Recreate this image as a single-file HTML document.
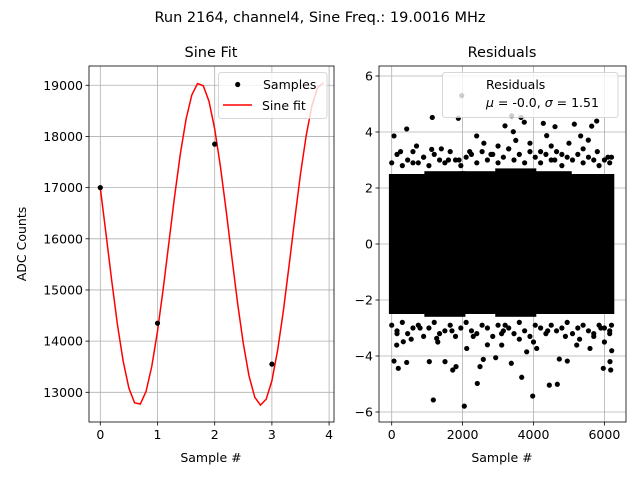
<!DOCTYPE html>
<html><head><meta charset="utf-8"><style>
body{margin:0;background:#fff;}
svg{display:block;font-family:"DejaVu Sans","Liberation Sans",sans-serif;}
</style></head><body>
<svg id="fig" width="640" height="480" viewBox="0 0 640 480">
<text x="320" y="22" text-anchor="middle" font-size="14.5">Run 2164, channel4, Sine Freq.: 19.0016 MHz</text>
<text x="211" y="57" text-anchor="middle" font-size="14.5">Sine Fit</text>
<text x="502" y="57" text-anchor="middle" font-size="14.5">Residuals</text>
<g id="left"></g>
<g id="right"></g>
</svg>
<script>
const fitX=[0,0.1,0.2,0.3,0.4,0.5,0.6,0.7,0.8,0.9,1.0,1.1,1.2,1.3,1.4,1.5,1.6,1.7,1.8,1.9,2.0,2.1,2.2,2.3,2.4,2.5,2.6,2.7,2.8,2.9,3.0,3.1,3.2,3.3,3.4,3.5,3.6,3.7,3.8,3.9];
const fitY=[16993,16095,15179,14319,13607,13081,12794,12772,13018,13506,14193,15024,15931,16839,17664,18341,18811,19034,18991,18688,18146,17413,16553,15638,14744,13953,13320,12904,12750,12864,13226,13821,14587,15475,16388,17267,18020,18603,18956,19046];
const sampleX=[0,1,2,3];
const sampleY=[17000,14350,17850,13550];
const leftXTicks=[0,1,2,3,4];
const leftYTicks=[13000,14000,15000,16000,17000,18000,19000];
const rightXTicks=[0,2000,4000,6000];
const rightYTicks=[-6,-4,-2,0,2,4,6];
const coreBinStart=[0,1000,2000,3000,4000,5000];
const coreBinEnd=[1000,2000,3000,4000,5000,6200];
const coreLow=[-2.5,-2.6,-2.5,-2.6,-2.5,-2.5];
const coreHigh=[2.5,2.6,2.6,2.7,2.6,2.5];
const fringeX=[0,150,300,450,600,750,900,1050,1200,1350,1500,1650,1800,1950,2100,2250,2400,2550,2700,2850,3000,3150,3300,3450,3600,3750,3900,4050,4200,4350,4500,4650,4800,4950,5100,5250,5400,5550,5700,5850,6000,6150,6200];
const fringeHi=[2.9,3.2,2.8,3.0,3.3,2.9,3.1,2.8,3.2,3.0,2.9,3.3,3.0,2.8,3.1,3.2,2.9,3.3,3.0,3.2,2.9,3.1,3.4,3.0,3.2,2.9,3.3,3.1,2.9,3.2,3.0,3.3,2.8,3.1,3.0,3.2,2.9,3.1,3.0,2.8,3.0,2.9,3.1];
const fringeLo=[-2.9,-3.1,-2.8,-3.2,-3.0,-2.9,-3.3,-3.0,-2.8,-3.2,-3.1,-2.9,-3.3,-3.0,-2.8,-3.1,-3.2,-2.9,-3.0,-3.3,-2.9,-3.1,-3.0,-3.2,-2.8,-3.1,-3.3,-2.9,-3.0,-3.2,-2.9,-3.1,-3.0,-2.8,-3.2,-3.0,-2.9,-3.1,-3.3,-2.9,-3.0,-3.2,-2.9];
const outX=[1975,1145,1880,3385,3647,3740,65,423,2397,3196,3430,4277,4607,5152,5331,5641,5783,5546,4372,1128,1174,2048,3977,2415,4446,4672,3667,65,186,423,1061,1504,1721,1814,2491,2584,2934,3374,3808,4728,4954,5969,6178,6158,6206,1269,2116,3103,4090,5594,5219,141,327,
 250,700,900,1400,1600,2200,2600,2800,3000,3300,3500,3900,4200,4500,4800,5000,5400,5800,6100,150,550,800,1300,1700,2300,2700,3100,3600,4000,4400,4900,5300,5700,6000,6150,600,1900,3200,4600,5900];
const outY=[5.30,4.52,4.49,4.58,4.52,4.35,3.86,4.11,3.86,4.22,4.01,4.31,4.19,4.28,3.86,4.21,4.39,3.71,3.87,3.38,-5.57,-5.79,-5.43,-4.98,-5.04,-5.01,-4.76,-4.18,-4.44,-4.23,-4.20,-4.20,-4.5,-4.38,-4.38,-4.12,-4.06,-4.26,-3.85,-4.11,-4.18,-4.44,-4.5,-4.2,-3.81,-3.37,-3.73,-3.61,-3.73,-3.73,-3.61,-3.61,-3.49,
 3.3,3.5,3.1,3.4,3.0,3.3,3.6,3.2,3.5,3.4,3.7,3.6,3.3,3.5,3.2,3.6,3.4,3.3,3.1,-3.2,-3.4,-3.0,-3.5,-3.1,-3.3,-3.6,-3.2,-3.4,-3.5,-3.1,-3.3,-3.4,-3.2,-3.5,-3.1,2.9,3.0,-2.9,3.0,-3.0];

const NS='http://www.w3.org/2000/svg';
function mk(parent,tag,attrs){const e=document.createElementNS(NS,tag);for(const k in attrs)e.setAttribute(k,attrs[k]);parent.appendChild(e);return e;}

const L={x0:89,x1:334,y0:66,y1:422};
const lx=v=>100.3+(v-0)*57.2;
const ly=v=>392.3-(v-13000)*0.05117;
const gl=document.getElementById('left');
leftXTicks.forEach(t=>{
 const g=mk(gl,'line',{x1:lx(t),x2:lx(t),y1:L.y0,y2:L.y1,stroke:'#b0b0b0','stroke-width':0.8});
 
 
 mk(gl,'line',{x1:lx(t),x2:lx(t),y1:L.y1,y2:L.y1+3.5,stroke:'#000','stroke-width':0.8});
 const tx=mk(gl,'text',{x:lx(t),y:L.y1+17,'text-anchor':'middle','font-size':12.5});tx.textContent=t;
 
 
});
leftYTicks.forEach(t=>{
 const g=mk(gl,'line',{x1:L.x0,x2:L.x1,y1:ly(t),y2:ly(t),stroke:'#b0b0b0','stroke-width':0.8});
 
 
 mk(gl,'line',{x1:L.x0-3.5,x2:L.x0,y1:ly(t),y2:ly(t),stroke:'#000','stroke-width':0.8});
 const tx=mk(gl,'text',{x:L.x0-6,y:ly(t)+4.5,'text-anchor':'end','font-size':12.5});tx.textContent=t;
 
 
});
const fit=mk(gl,'polyline',{points:fitX.map((x,i)=>lx(x)+','+ly(fitY[i])).join(' '),fill:'none',stroke:'#ff0000','stroke-width':1.5});


sampleX.forEach((x,i)=>{
 const c=mk(gl,'circle',{cx:lx(x),cy:ly(sampleY[i]),r:2.6,fill:'#000'});
 
 
});
mk(gl,'rect',{x:L.x0,y:L.y0,width:L.x1-L.x0,height:L.y1-L.y0,fill:'none',stroke:'#000','stroke-width':0.8});
const xl=mk(gl,'text',{x:211,y:462,'text-anchor':'middle','font-size':12.5});xl.textContent='Sample #';


const yl=mk(gl,'text',{x:26,y:244,'text-anchor':'middle','font-size':12.5,transform:'rotate(-90 26 244)'});yl.textContent='ADC Counts';


const lg=mk(gl,'g',{});


mk(lg,'rect',{x:218.5,y:72.5,width:108.5,height:46,rx:3,fill:'#fff','fill-opacity':0.8,stroke:'#ccc','stroke-width':0.8});
mk(lg,'circle',{cx:237.7,cy:84.5,r:2.6,fill:'#000'});
let t1=mk(lg,'text',{x:263,y:89,'font-size':12.5});t1.textContent='Samples';
mk(lg,'line',{x1:223,x2:252,y1:105,y2:105,stroke:'#ff0000','stroke-width':1.5});
let t2=mk(lg,'text',{x:262,y:110,'font-size':12.5});t2.textContent='Sine fit';

const R={x0:379,x1:626,y0:66,y1:422};
const rx=v=>391.7+v*0.03545;
const ry=v=>244-v*28;
const gr=document.getElementById('right');
rightXTicks.forEach(t=>{
 const g=mk(gr,'line',{x1:rx(t),x2:rx(t),y1:R.y0,y2:R.y1,stroke:'#b0b0b0','stroke-width':0.8});
 
 
 mk(gr,'line',{x1:rx(t),x2:rx(t),y1:R.y1,y2:R.y1+3.5,stroke:'#000','stroke-width':0.8});
 const tx=mk(gr,'text',{x:rx(t),y:R.y1+17,'text-anchor':'middle','font-size':12.5});tx.textContent=t;
 
 
});
rightYTicks.forEach(t=>{
 const g=mk(gr,'line',{x1:R.x0,x2:R.x1,y1:ry(t),y2:ry(t),stroke:'#b0b0b0','stroke-width':0.8});
 
 
 mk(gr,'line',{x1:R.x0-3.5,x2:R.x0,y1:ry(t),y2:ry(t),stroke:'#000','stroke-width':0.8});
 const tx=mk(gr,'text',{x:R.x0-6,y:ry(t)+4.5,'text-anchor':'end','font-size':12.5});tx.textContent=(t<0?'\u2212'+(-t):t);
 
 
});
coreBinStart.forEach((s,i)=>{
 const r=mk(gr,'rect',{x:rx(s)-2.8,y:ry(coreHigh[i]),width:rx(coreBinEnd[i])-rx(s)+5.6,height:ry(coreLow[i])-ry(coreHigh[i]),fill:'#000'});
 
 
});
fringeX.forEach((x,i)=>{
 const a=mk(gr,'circle',{cx:rx(x),cy:ry(fringeHi[i]),r:2.6,fill:'#000'});
 
 
 const b=mk(gr,'circle',{cx:rx(x),cy:ry(fringeLo[i]),r:2.6,fill:'#000'});
 
 
});
outX.forEach((x,i)=>{
 const c=mk(gr,'circle',{cx:rx(x),cy:ry(outY[i]),r:2.6,fill:'#000'});
 
 
});
mk(gr,'rect',{x:R.x0,y:R.y0,width:R.x1-R.x0,height:R.y1-R.y0,fill:'none',stroke:'#000','stroke-width':0.8});
const xr=mk(gr,'text',{x:502,y:462,'text-anchor':'middle','font-size':12.5});xr.textContent='Sample #';


const rg=mk(gr,'g',{});


mk(rg,'rect',{x:442.5,y:72.5,width:175.5,height:45,rx:3,fill:'#fff','fill-opacity':0.8,stroke:'#ccc','stroke-width':0.8});
let r1=mk(rg,'text',{x:486,y:89,'font-size':12.5});r1.textContent='Residuals';
let r2=mk(rg,'text',{x:486,y:107,'font-size':12.5});r2.innerHTML='<tspan font-style="italic">μ</tspan> = -0.0, <tspan font-style="italic">σ</tspan> = 1.51';
</script>
</body></html>
